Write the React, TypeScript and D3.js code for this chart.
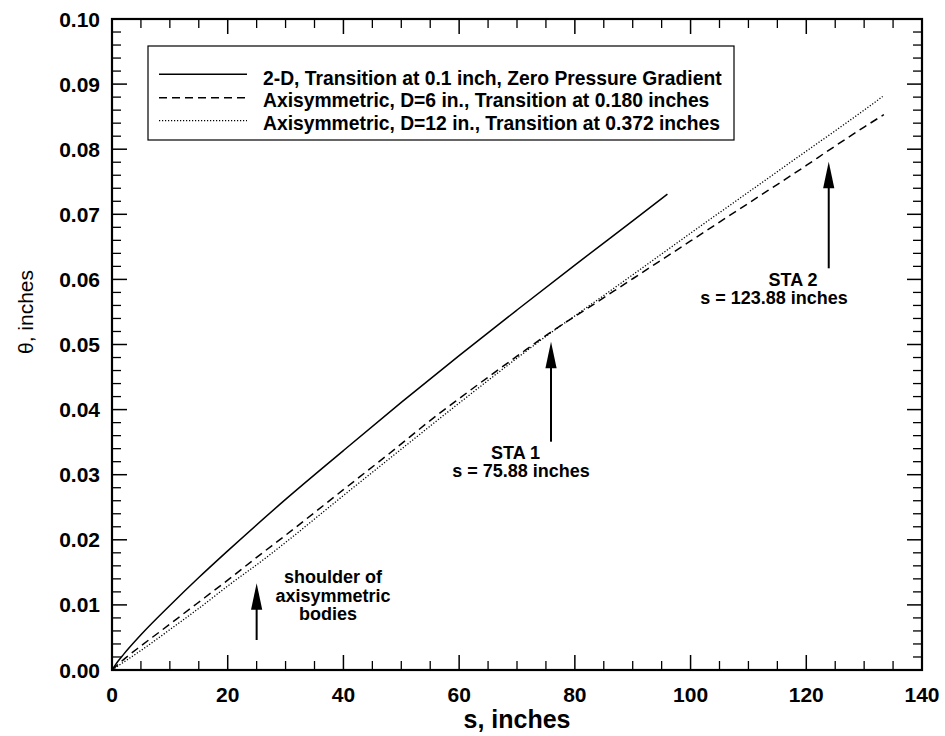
import React from "react";
import * as d3 from "d3";

// ---- data ----
const sSolid = [0, 1, 2, 5, 10, 15, 20, 30, 40, 50, 60, 70, 80, 90, 96];
const thSolid = [0, 0.0013, 0.0024, 0.0054, 0.0099, 0.0142, 0.0183, 0.0262, 0.0337, 0.0411, 0.0483, 0.0553, 0.0622, 0.069, 0.0731];

const sDash = [0, 2, 5, 8.3, 12, 16, 20, 25, 30, 40, 48, 56.7, 60, 70, 76, 80, 90, 100, 110, 120, 124, 130, 133.4];
const thDash = [0, 0.0016, 0.0037, 0.0059, 0.0084, 0.0111, 0.0138, 0.0173, 0.0207, 0.0277, 0.0333, 0.0395, 0.0417, 0.0482, 0.052, 0.0543, 0.0601, 0.0659, 0.0717, 0.0775, 0.0799, 0.0834, 0.0853];

const sDot = [0, 2, 5, 8.3, 12, 15.2, 20, 26.7, 30, 40, 48, 60, 70, 76, 80, 90, 100, 110, 120, 124, 130, 133.2];
const thDot = [0, 0.0012, 0.003, 0.0051, 0.0075, 0.0096, 0.0129, 0.0173, 0.0196, 0.0268, 0.0325, 0.041, 0.0479, 0.0519, 0.0544, 0.0607, 0.0671, 0.0734, 0.0797, 0.0822, 0.086, 0.0881];

const legendLabels = [
  "2-D, Transition at 0.1 inch, Zero Pressure Gradient",
  "Axisymmetric, D=6 in., Transition at 0.180 inches",
  "Axisymmetric, D=12 in., Transition at 0.372 inches",
];
const xTicks = [0, 20, 40, 60, 80, 100, 120, 140];
const yTicks = [0, 0.01, 0.02, 0.03, 0.04, 0.05, 0.06, 0.07, 0.08, 0.09, 0.1];
const yTickLabels = ["0.00", "0.01", "0.02", "0.03", "0.04", "0.05", "0.06", "0.07", "0.08", "0.09", "0.10"];

const arrowS = [25, 75.88, 123.88];

const FONT = "'Liberation Sans', Arial, Helvetica, sans-serif";

export default function App() {
  const W = 945, H = 736;
  const L = 112, R = 922, T = 19, B = 670;
  const x = d3.scaleLinear().domain([0, 140]).range([L, R]);
  const y = d3.scaleLinear().domain([0, 0.1]).range([B, T]);

  const line = d3
    .line<[number, number]>()
    .x((d) => x(d[0]))
    .y((d) => y(d[1]))
    .curve(d3.curveMonotoneX);

  const series = [
    { s: sSolid, t: thSolid, dash: undefined as string | undefined },
    { s: sDash, t: thDash, dash: "8,5" },
    { s: sDot, t: thDot, dash: "1.2,1.8" },
  ];

  const xMinor = d3.range(0, 141, 5).filter((v) => v % 20 !== 0);
  const yMinor = d3.range(0, 101, 2).map((v) => v / 1000).filter((v, i) => (i * 2) % 10 !== 0);

  const arrowHead = (ax: number, tipY: number) =>
    `M${ax},${tipY} L${ax - 5.6},${tipY + 26.5} L${ax + 5.6},${tipY + 26.5} Z`;

  const ax0 = x(arrowS[0]);
  const ax1 = x(arrowS[1]);
  const ax2 = x(arrowS[2]);

  return (
    <svg
      width={W}
      height={H}
      style={{ position: "absolute", left: 0, top: 0, background: "#fff" }}
      fontFamily={FONT}
    >
      <rect x={0} y={0} width={W} height={H} fill="#fff" />
      {/* curves */}
      {series.map((sr, i) => (
        <path
          key={i}
          d={line(sr.s.map((v, k) => [v, sr.t[k]] as [number, number])) || ""}
          fill="none"
          stroke="#000"
          strokeWidth={i === 2 ? 1.3 : 1.5}
          strokeDasharray={sr.dash}
        />
      ))}

      {/* ticks */}
      {xTicks.map((v) => (
        <g key={"xt" + v}>
          <line x1={x(v)} x2={x(v)} y1={B} y2={B - 15} stroke="#000" strokeWidth={1.5} />
          <line x1={x(v)} x2={x(v)} y1={T} y2={T + 15} stroke="#000" strokeWidth={1.5} />
          <text x={x(v)} y={702} textAnchor="middle" fontSize={21} fontWeight="bold">
            {v}
          </text>
        </g>
      ))}
      {xMinor.map((v) => (
        <g key={"xm" + v}>
          <line x1={x(v)} x2={x(v)} y1={B} y2={B - 9} stroke="#000" strokeWidth={1.3} />
          <line x1={x(v)} x2={x(v)} y1={T} y2={T + 9} stroke="#000" strokeWidth={1.3} />
        </g>
      ))}
      {yTicks.map((v, i) => (
        <g key={"yt" + i}>
          <line x1={L} x2={L + 15} y1={y(v)} y2={y(v)} stroke="#000" strokeWidth={1.5} />
          <line x1={R} x2={R - 15} y1={y(v)} y2={y(v)} stroke="#000" strokeWidth={1.5} />
          <text x={100} y={y(v) + 7.5} textAnchor="end" fontSize={21} fontWeight="bold">
            {yTickLabels[i]}
          </text>
        </g>
      ))}
      {yMinor.map((v, i) => (
        <g key={"ym" + i}>
          <line x1={L} x2={L + 9} y1={y(v)} y2={y(v)} stroke="#000" strokeWidth={1.3} />
          <line x1={R} x2={R - 9} y1={y(v)} y2={y(v)} stroke="#000" strokeWidth={1.3} />
        </g>
      ))}

      {/* frame */}
      <rect x={L} y={T} width={R - L} height={B - T} fill="none" stroke="#000" strokeWidth={2.2} />

      {/* axis titles */}
      <text x={(L + R) / 2} y={728} textAnchor="middle" fontSize={25} fontWeight="bold">
        s, inches
      </text>
      <text
        transform={`translate(33,312) rotate(-90)`}
        textAnchor="middle"
        fontSize={21}
      >
        θ, inches
      </text>

      {/* legend */}
      <rect x={148} y={46} width={586} height={94} fill="#fff" stroke="#000" strokeWidth={1.2} />
      {legendLabels.map((lab, i) => {
        const ly = [74.3, 97.7, 120.7][i];
        return (
          <g key={"lg" + i}>
            <line
              x1={159}
              x2={247}
              y1={ly}
              y2={ly}
              stroke="#000"
              strokeWidth={i === 2 ? 1.3 : 1.5}
              strokeDasharray={series[i].dash}
            />
            <text x={263} y={[85, 107, 130][i]} fontSize={19.3} fontWeight="bold">
              {lab}
            </text>
          </g>
        );
      })}

      {/* arrows */}
      <line x1={ax0} x2={ax0} y1={640} y2={600} stroke="#000" strokeWidth={2} />
      <path d={arrowHead(ax0, 583.3)} fill="#000" />
      <line x1={ax1} x2={ax1} y1={441.7} y2={358} stroke="#000" strokeWidth={2} />
      <path d={arrowHead(ax1, 341.7)} fill="#000" />
      <line x1={ax2} x2={ax2} y1={268.3} y2={178} stroke="#000" strokeWidth={2} />
      <path d={arrowHead(ax2, 161.7)} fill="#000" />

      {/* annotations */}
      <g fontSize={18} fontWeight="bold" textAnchor="middle">
        <text x={333} y={583.3}>shoulder of</text>
        <text x={333} y={602}>axisymmetric</text>
        <text x={328} y={620}>bodies</text>
        <text x={515.5} y={459.3}>STA 1</text>
        <text x={521} y={477}>s = 75.88 inches</text>
        <text x={793} y={286}>STA 2</text>
        <text x={774} y={304}>s = 123.88 inches</text>
      </g>
    </svg>
  );
}
